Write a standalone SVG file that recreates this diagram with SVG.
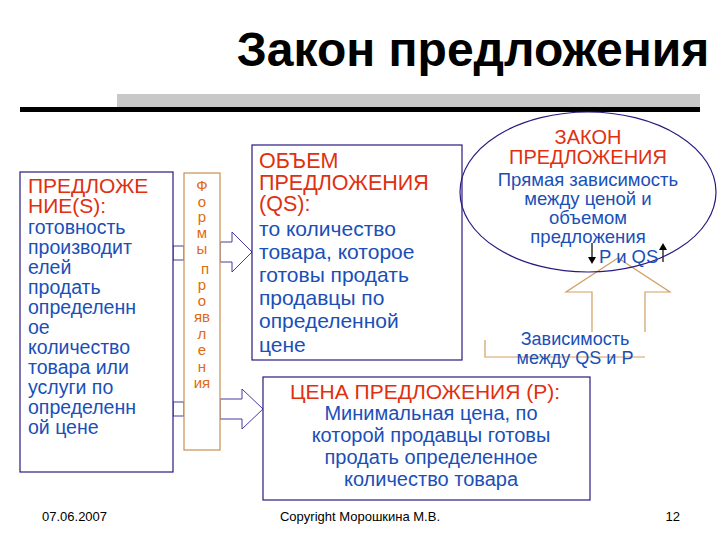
<svg xmlns="http://www.w3.org/2000/svg" width="720" height="540" viewBox="0 0 720 540">
<style>
text{font-family:"Liberation Sans",Arial,sans-serif}
.r{fill:#e03010}.b{fill:#1a4fb8}.o{fill:#e06a10}
.box{fill:#fff;stroke:#2a1a80;stroke-width:1.2}
.ob{fill:#fff;stroke:#c89050;stroke-width:1.2}
.ar{fill:#fff;stroke:#4a3aa0;stroke-width:1}
</style>
<rect width="720" height="540" fill="#fff"/>
<text x="473" y="66" text-anchor="middle" font-size="48" font-weight="bold" fill="#000">Закон предложения</text>
<rect x="117" y="94" width="583" height="13" fill="#c8c8c8"/>
<rect x="20" y="107" width="680" height="5" fill="#000"/>
<g id="connectors">
<rect x="173" y="246" width="11" height="14" class="ar"/>
<rect x="173" y="402" width="11" height="14" class="ar"/>
<path d="M220,242 H232 V232 L252,252 L232,272 V262 H220 Z" class="ar"/>
<path d="M220,399 H242 V389 L263,409 L242,429 V419 H220 Z" class="ar"/>
<path d="M592,332 V292 H566 L618,258 L670,292 H645 V332" fill="#fff" stroke="#d0a060" stroke-width="1.2"/>
<path d="M485,340 V357 H645" fill="none" stroke="#d0a060" stroke-width="1.2"/>
<path d="M592,243 V262" stroke="#000" stroke-width="1.2"/>
<path d="M588,257 L592,264 L596,257 Z" fill="#000"/>
<path d="M663,262 V245" stroke="#000" stroke-width="1.2"/>
<path d="M659,250 L663,243 L667,250 Z" fill="#000"/>
</g>
<g id="supply">
<rect x="20" y="172" width="153" height="300" class="box"/>
<text font-size="21" class="r"><tspan x="28" y="193">ПРЕДЛОЖЕ</tspan><tspan x="28" y="213">НИЕ(S):</tspan></text>
<text font-size="19.5" class="b"><tspan x="28" y="234">готовность</tspan><tspan x="28" y="254">производит</tspan><tspan x="28" y="274">елей</tspan><tspan x="28" y="294">продать</tspan><tspan x="28" y="314">определенн</tspan><tspan x="28" y="334">ое</tspan><tspan x="28" y="354">количество</tspan><tspan x="28" y="374">товара или</tspan><tspan x="28" y="394">услуги по</tspan><tspan x="28" y="414">определенн</tspan><tspan x="28" y="434">ой цене</tspan></text>
</g>
<g id="forms">
<rect x="184" y="173" width="36" height="277" class="ob"/>
<text font-size="15" class="o" text-anchor="middle"><tspan x="202" y="191">Ф</tspan><tspan x="202" y="207">о</tspan><tspan x="202" y="222">р</tspan><tspan x="202" y="238">м</tspan><tspan x="202" y="254">ы</tspan><tspan x="205" y="274">п</tspan><tspan x="202" y="290">р</tspan><tspan x="202" y="306">о</tspan><tspan x="202" y="322">яв</tspan><tspan x="202" y="339">л</tspan><tspan x="202" y="355">е</tspan><tspan x="202" y="372">н</tspan><tspan x="202" y="388">ия</tspan></text>
</g>
<g id="qs">
<rect x="252" y="145" width="210" height="215" class="box"/>
<text font-size="21.5" class="r"><tspan x="259" y="168">ОБЪЕМ</tspan><tspan x="259" y="190">ПРЕДЛОЖЕНИЯ</tspan><tspan x="259" y="211">(QS):</tspan></text>
<text font-size="21" class="b"><tspan x="259" y="236">то количество</tspan><tspan x="259" y="259">товара, которое</tspan><tspan x="259" y="282">готовы продать</tspan><tspan x="259" y="305">продавцы по</tspan><tspan x="259" y="328">определенной</tspan><tspan x="259" y="352">цене</tspan></text>
</g>
<g id="law">
<ellipse cx="588" cy="192" rx="128" ry="80" fill="none" stroke="#2a1a80" stroke-width="1.2"/>
<text font-size="20" class="r" text-anchor="middle"><tspan x="588" y="144">ЗАКОН</tspan><tspan x="588" y="164">ПРЕДЛОЖЕНИЯ</tspan></text>
<text font-size="18.5" class="b" text-anchor="middle"><tspan x="588" y="186">Прямая зависимость</tspan><tspan x="588" y="205">между ценой и</tspan><tspan x="588" y="224">объемом</tspan><tspan x="588" y="243">предложения</tspan></text>
<text x="599" y="263" font-size="18.5" class="b">P  и  QS</text>
</g>
<g id="dep">
<text font-size="18" class="b" text-anchor="middle"><tspan x="575" y="345">Зависимость</tspan><tspan x="575" y="364">между  QS и P</tspan></text>
</g>
<g id="price">
<rect x="263" y="377" width="327" height="123" class="box"/>
<text x="290" y="399" font-size="21" class="r">ЦЕНА ПРЕДЛОЖЕНИЯ (P):</text>
<text font-size="20" class="b" text-anchor="middle"><tspan x="431" y="420">Минимальная цена, по</tspan><tspan x="431" y="442">которой продавцы готовы</tspan><tspan x="431" y="464">продать определенное</tspan><tspan x="431" y="486">количество товара</tspan></text>
</g>
<text x="42" y="521" font-size="13" fill="#000">07.06.2007</text>
<text x="360" y="521" font-size="13" fill="#000" text-anchor="middle">Copyright Морошкина М.В.</text>
<text x="680" y="521" font-size="13" fill="#000" text-anchor="end">12</text>
</svg>
